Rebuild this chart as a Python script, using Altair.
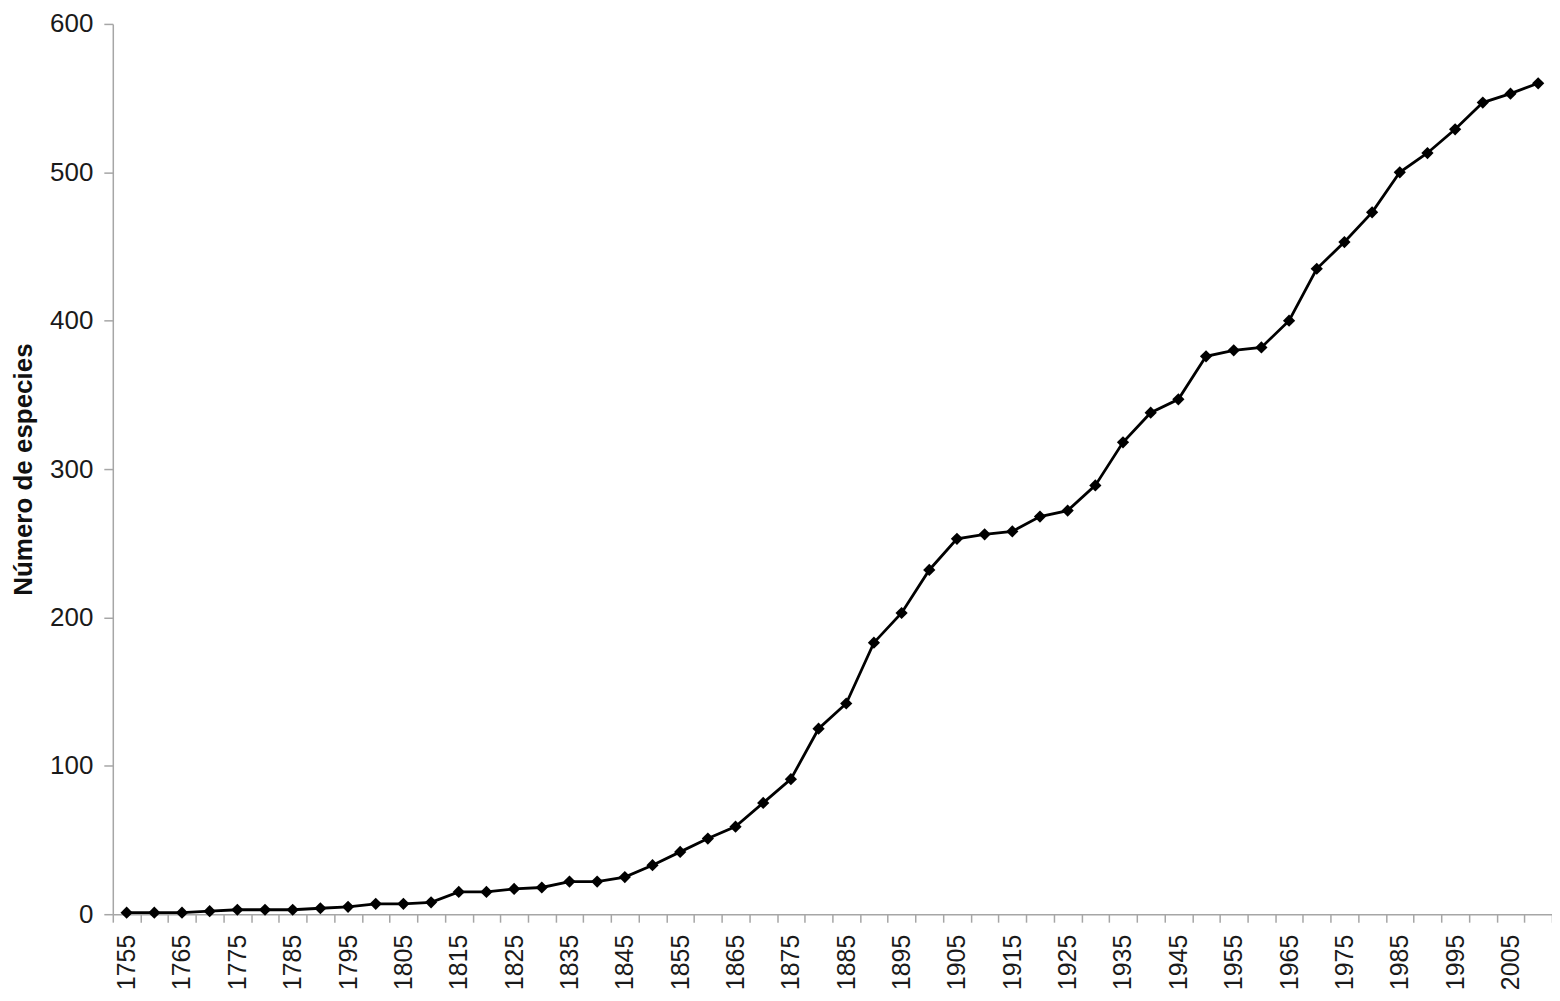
import altair as alt
import pandas as pd

years = list(range(1755, 2015, 5))
especies = [1, 1, 1, 2, 3, 3, 3, 4, 5, 7,
            7, 8, 15, 15, 17, 18, 22, 22, 25, 33,
            42, 51, 59, 75, 91, 125, 142, 183, 203, 232,
            253, 256, 258, 268, 272, 289, 318, 338, 347, 376,
            380, 382, 400, 435, 453, 473, 500, 513, 529, 547,
            553, 560]
y_ticks = [0, 100, 200, 300, 400, 500, 600]

df = pd.DataFrame({"year": years, "n": especies})

step = 5
boundaries = [years[0] - step / 2 + step * k for k in range(len(years) + 1)]
label_years = years[::2]
x_values = boundaries + label_years

FONT = "Liberation Sans"
AXIS_GRAY = "#a6a6a6"

x = alt.X(
    "year:Q",
    scale=alt.Scale(domain=[boundaries[0], boundaries[-1]], nice=False, zero=False),
    axis=alt.Axis(
        title=None,
        values=x_values,
        labelExpr="(datum.value - 1755) % 10 == 0 ? format(datum.value, 'd') : ''",
        labelAngle=-90,
        labelOverlap=False,
        labelFont=FONT,
        labelFontSize=25,
        labelColor="#1a1a1a",
        labelPadding=12,
        tickSize=8,
        tickColor=AXIS_GRAY,
        tickOpacity=alt.condition("datum.value % 5 == 0", alt.value(0), alt.value(1)),
        domainColor=AXIS_GRAY,
        domainWidth=1.5,
        tickWidth=1.5,
        grid=False,
    ),
)

y = alt.Y(
    "n:Q",
    scale=alt.Scale(domain=[0, 600], nice=False),
    axis=alt.Axis(
        title="Número de especies",
        values=y_ticks,
        labelFont=FONT,
        labelFontSize=26,
        labelColor="#1a1a1a",
        labelPadding=11,
        titleFont=FONT,
        titleFontSize=26,
        titleFontWeight="bold",
        titleColor="#111111",
        titlePadding=13,
        tickSize=9,
        tickColor=AXIS_GRAY,
        tickWidth=1.5,
        domainColor=AXIS_GRAY,
        domainWidth=1.5,
        grid=False,
    ),
)

base = alt.Chart(df).encode(x=x, y=y)
line = base.mark_line(color="black", strokeWidth=2.8)
points = base.mark_point(shape="diamond", filled=True, color="black", size=150, opacity=1)

chart = (
    alt.layer(line, points)
    .properties(
        width=1442,
        height=892,
        background="white",
        autosize=alt.AutoSizeParams(type="none"),
        padding={"left": 105, "top": 15, "right": 0, "bottom": 78},
    )
    .configure_view(strokeWidth=0, strokeOpacity=0)
    .configure_axis(grid=False)
)

chart.save("out.html", embed_options={"renderer": "svg", "actions": False})
